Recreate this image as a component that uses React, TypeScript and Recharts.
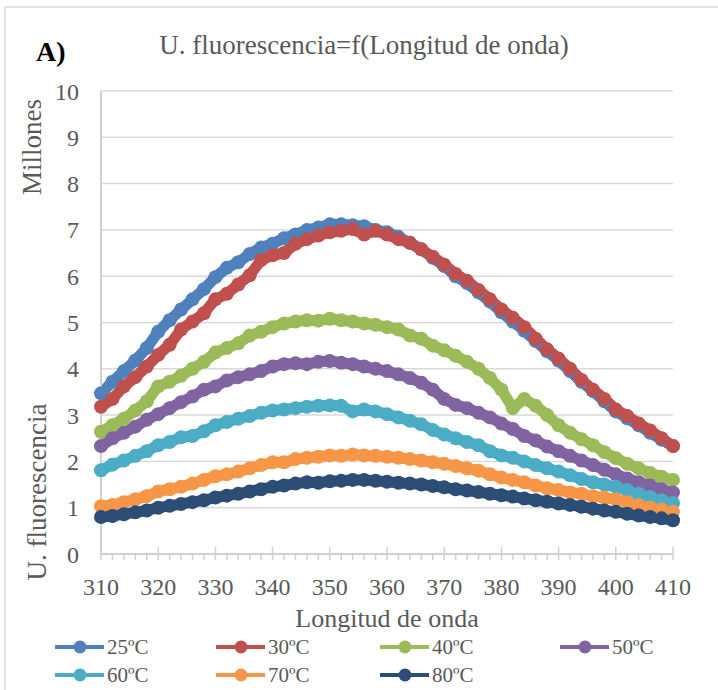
import { CartesianGrid, Line, LineChart, XAxis, YAxis } from "recharts";

const wavelengths = [
  310, 312, 314, 316, 318, 320, 322, 324, 326, 328, 330, 332, 334, 336, 338,
  340, 342, 344, 346, 348, 350, 352, 354, 356, 358, 360, 362, 364, 366, 368,
  370, 372, 374, 376, 378, 380, 382, 384, 386, 388, 390, 392, 394, 396, 398,
  400, 402, 404, 406, 408, 410,
];

const t25 = [
  3.47, 3.72, 3.95, 4.18, 4.45, 4.8, 5.05, 5.28, 5.5, 5.72, 5.98, 6.18, 6.3,
  6.48, 6.62, 6.7, 6.82, 6.9, 7.0, 7.05, 7.12, 7.12, 7.1, 7.08, 7.0, 6.95,
  6.85, 6.72, 6.58, 6.4, 6.22, 6.0, 5.85, 5.65, 5.45, 5.22, 5.02, 4.82, 4.6,
  4.38, 4.18, 3.95, 3.72, 3.52, 3.3, 3.08, 2.93, 2.78, 2.62, 2.47, 2.33,
];
const t30 = [
  3.18, 3.35, 3.62, 3.82, 4.05, 4.3, 4.52, 4.85, 5.02, 5.2, 5.5, 5.62, 5.82,
  6.02, 6.35, 6.45, 6.5, 6.7, 6.8, 6.88, 6.95, 6.98, 7.02, 6.9, 6.98, 6.9,
  6.8, 6.72, 6.58, 6.42, 6.25, 6.05, 5.9, 5.7, 5.5, 5.28, 5.1, 4.9, 4.65,
  4.42, 4.22, 4.0, 3.76, 3.55, 3.35, 3.12, 2.98, 2.82, 2.67, 2.5, 2.33,
];
const t40 = [
  2.64, 2.78, 2.92, 3.1, 3.3, 3.62, 3.72, 3.85, 4.0, 4.15, 4.35, 4.45, 4.55,
  4.72, 4.8, 4.9, 4.98, 5.02, 5.05, 5.04, 5.08, 5.05, 5.02, 4.98, 4.95, 4.9,
  4.85, 4.72, 4.65, 4.5, 4.4, 4.28, 4.15, 4.0, 3.8, 3.55, 3.15, 3.35, 3.2,
  3.0, 2.78, 2.62, 2.48, 2.35, 2.2, 2.07, 1.95, 1.85, 1.75, 1.67, 1.6,
];
const t50 = [
  2.33, 2.5, 2.62, 2.75, 2.9, 3.02, 3.15, 3.28, 3.4, 3.55, 3.62, 3.75, 3.82,
  3.88, 3.95, 4.05, 4.1, 4.12, 4.1, 4.15, 4.17, 4.13, 4.1, 4.05, 4.0, 3.95,
  3.88, 3.8, 3.7, 3.55, 3.35, 3.22, 3.15, 3.05, 2.95, 2.82, 2.7, 2.55, 2.45,
  2.32, 2.22, 2.12, 2.02, 1.92, 1.82, 1.72, 1.63, 1.55, 1.48, 1.4, 1.33,
];
const t60 = [
  1.81, 1.93, 2.02, 2.12, 2.22, 2.35, 2.42, 2.52, 2.55, 2.65, 2.78, 2.85, 2.92,
  2.98, 3.05, 3.1, 3.12, 3.15, 3.18, 3.2, 3.21, 3.2, 3.08, 3.12, 3.08, 3.02,
  2.95, 2.88, 2.8, 2.68, 2.58, 2.5, 2.42, 2.35, 2.22, 2.13, 2.08, 2.0, 1.92,
  1.85, 1.78, 1.7, 1.62, 1.55, 1.5, 1.45, 1.38, 1.3, 1.23, 1.16, 1.1,
];
const t70 = [
  1.03, 1.06, 1.12, 1.18, 1.25, 1.35, 1.4, 1.45, 1.52, 1.6, 1.68, 1.72, 1.78,
  1.85, 1.92, 1.98, 1.98, 2.05, 2.08, 2.1, 2.13, 2.12, 2.15, 2.13, 2.12, 2.1,
  2.08, 2.05, 2.02, 1.98, 1.95, 1.9, 1.85, 1.8, 1.72, 1.65, 1.6, 1.55, 1.48,
  1.42, 1.38, 1.33, 1.3, 1.25, 1.22, 1.18, 1.12, 1.06, 1.0, 0.96, 0.91,
];
const t80 = [
  0.8, 0.82, 0.86, 0.9, 0.94, 1.0, 1.04, 1.08, 1.12, 1.16, 1.22, 1.26, 1.3,
  1.35, 1.4, 1.45, 1.48, 1.52, 1.55, 1.54, 1.57, 1.58, 1.6, 1.6, 1.58, 1.56,
  1.54, 1.52, 1.5, 1.47, 1.44, 1.4, 1.37, 1.34, 1.3, 1.27, 1.24, 1.2, 1.16,
  1.13, 1.09, 1.06, 1.02, 0.98, 0.94, 0.91, 0.87, 0.83, 0.8, 0.77, 0.73,
];

const yTicks = [0, 1, 2, 3, 4, 5, 6, 7, 8, 9, 10];

const series = [
  { key: "t25", label: "25ºC", color: "#4F81BD", values: t25 },
  { key: "t30", label: "30ºC", color: "#C0504D", values: t30 },
  { key: "t40", label: "40ºC", color: "#9BBB59", values: t40 },
  { key: "t50", label: "50ºC", color: "#8064A2", values: t50 },
  { key: "t60", label: "60ºC", color: "#4BACC6", values: t60 },
  { key: "t70", label: "70ºC", color: "#F79646", values: t70 },
  { key: "t80", label: "80ºC", color: "#2C4D75", values: t80 },
];

// legend slots (text x position, row)
const legendSlots = [
  { x: 107, row: 0 },
  { x: 268, row: 0 },
  { x: 432, row: 0 },
  { x: 612, row: 0 },
  { x: 107, row: 1 },
  { x: 268, row: 1 },
  { x: 432, row: 1 },
];

const data = wavelengths.map((nm, i) => {
  const row: Record<string, number> = { nm };
  series.forEach((s) => {
    row[s.key] = s.values[i];
  });
  return row;
});

const FONT = "'Liberation Serif', 'DejaVu Serif', serif";
const TEXT = "#595959";
const AXIS = "#d0d0d0";

function XTick(props: any) {
  const { x, y, payload } = props;
  const major = payload.value % 10 === 0;
  return (
    <g>
      <line
        x1={x}
        x2={x}
        y1={major ? y - 7 : y}
        y2={y + 6}
        stroke={AXIS}
        strokeWidth={1.5}
      />
      {major && (
        <text
          x={x}
          y={y + 41}
          textAnchor="middle"
          fill={TEXT}
          fontSize={24}
          fontFamily={FONT}
        >
          {payload.value}
        </text>
      )}
    </g>
  );
}

export default function App() {
  return (
    <div
      style={{
        position: "fixed",
        left: 0,
        top: 0,
        width: 718,
        height: 690,
        overflow: "hidden",
        background: "#fff",
      }}
    >
      <LineChart
        width={718}
        height={690}
        data={data}
        margin={{ top: 91, right: 45, left: 41, bottom: 96 }}
      >
        <CartesianGrid vertical={false} stroke="#d9d9d9" strokeWidth={1.5} />
        <XAxis
          dataKey="nm"
          type="number"
          domain={[310, 410]}
          ticks={wavelengths}
          interval={0}
          height={40}
          tickSize={0}
          tickMargin={0}
          tickLine={false}
          axisLine={{ stroke: AXIS, strokeWidth: 2 }}
          tick={<XTick />}
        />
        <YAxis
          domain={[0, 10]}
          ticks={yTicks}
          interval={0}
          width={60}
          tickSize={0}
          tickMargin={22}
          tickLine={false}
          axisLine={{ stroke: AXIS, strokeWidth: 2 }}
          tick={{ fill: TEXT, fontSize: 24, fontFamily: FONT }}
        />
        {series.map((s) => (
          <Line
            key={s.key}
            type="linear"
            dataKey={s.key}
            stroke={s.color}
            strokeWidth={11}
            strokeLinejoin="round"
            dot={{ r: 7, fill: s.color, stroke: s.color, strokeWidth: 0 }}
            activeDot={false}
            isAnimationActive={false}
          />
        ))}
      </LineChart>

      <svg
        width={718}
        height={690}
        style={{ position: "absolute", left: 0, top: 0, pointerEvents: "none" }}
      >
        <line x1={5} y1={7} x2={718} y2={7} stroke="#d9d9d9" strokeWidth={1.5} />
        <line x1={5} y1={7} x2={5} y2={690} stroke="#d9d9d9" strokeWidth={1.5} />
        <text x={36} y={61} fontSize={28} fontWeight="bold" fontFamily={FONT} fill="#000">
          A)
        </text>
        <text x={364} y={54} textAnchor="middle" fontSize={27} fontFamily={FONT} fill={TEXT}>
          U. fluorescencia=f(Longitud de onda)
        </text>
        <text x={387} y={627} textAnchor="middle" fontSize={26} fontFamily={FONT} fill={TEXT}>
          Longitud de onda
        </text>
        <text
          transform="translate(41,147) rotate(-90)"
          textAnchor="middle"
          fontSize={27}
          fontFamily={FONT}
          fill={TEXT}
        >
          Millones
        </text>
        <text
          transform="translate(46,492) rotate(-90)"
          textAnchor="middle"
          fontSize={27}
          fontFamily={FONT}
          fill={TEXT}
        >
          U. fluorescencia
        </text>
        {series.map((s, i) => {
          const slot = legendSlots[i];
          const cy = 647 + slot.row * 28;
          return (
            <g key={s.key}>
              <line
                x1={slot.x - 52}
                x2={slot.x - 3}
                y1={cy}
                y2={cy}
                stroke={s.color}
                strokeWidth={4}
              />
              <circle cx={slot.x - 27} cy={cy} r={6.5} fill={s.color} />
              <text x={slot.x} y={cy + 7} fontSize={21} fontFamily={FONT} fill={TEXT}>
                {s.label}
              </text>
            </g>
          );
        })}
      </svg>
    </div>
  );
}
